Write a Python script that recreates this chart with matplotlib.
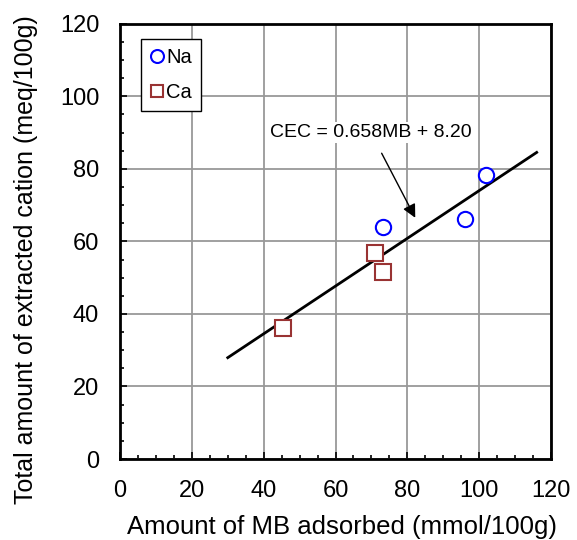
import matplotlib
matplotlib.use("Agg")
import matplotlib.pyplot as plt
from matplotlib.ticker import MultipleLocator
import numpy as np

plt.rcParams['font.family'] = ['Liberation Sans', 'DejaVu Sans']

# Data
na_mb = [73.3, 96.1, 101.9]
na_cec = [64.0, 66.2, 78.3]
ca_mb = [45.3, 71.1, 73.1]
ca_cec = [36.1, 56.8, 51.6]

slope = 0.658
intercept = 8.20
fit_range = [30, 116]

fig = plt.figure(figsize=(5.77, 5.40), dpi=100)
ax = fig.add_axes([0.208, 0.150, 0.747, 0.806])

# Fit line
fx = np.array(fit_range)
ax.plot(fx, slope * fx + intercept, color='black', lw=2, zorder=3)

# Data points
ax.plot(na_mb, na_cec, 'o', ms=11, mfc='white', mec='blue', mew=1.5, label='Na', zorder=4)
ax.plot(ca_mb, ca_cec, 's', ms=11, mfc='white', mec='#993333', mew=1.5, label='Ca', zorder=4)

# Annotation
ax.annotate('CEC = 0.658MB + 8.20', xy=(82.2, 66.5), xytext=(69.9, 89.9),
            ha='center', va='center', fontsize=14,
            arrowprops=dict(arrowstyle='-|>', color='black', lw=1, mutation_scale=20,
                            shrinkA=8, shrinkB=0),
            bbox=dict(boxstyle='square,pad=0.1', fc='white', ec='none'))

ax.set_xlim(0, 120)
ax.set_ylim(0, 120)
ax.xaxis.set_major_locator(MultipleLocator(20))
ax.yaxis.set_major_locator(MultipleLocator(20))
ax.xaxis.set_minor_locator(MultipleLocator(5))
ax.yaxis.set_minor_locator(MultipleLocator(5))
ax.tick_params(which='both', direction='in', width=1.2)
ax.tick_params(which='major', length=5, labelsize=17)
ax.tick_params(axis='x', which='major', pad=15)
ax.tick_params(axis='y', which='major', pad=15)
ax.tick_params(which='minor', length=3)
ax.grid(True, which='major', color='#999999', lw=1.3)
ax.set_axisbelow(True)
for s in ax.spines.values():
    s.set_linewidth(2)

ax.set_xlabel('Amount of MB adsorbed (mmol/100g)', fontsize=18.5)
ax.set_ylabel('Total amount of extracted cation (meq/100g)', fontsize=18)
ax.xaxis.set_label_coords(0.515, -0.128)
ax.yaxis.set_label_coords(-0.19, 0.458)

leg = ax.legend(loc='upper left', bbox_to_anchor=(0.049, 0.966), fontsize=14.5,
                frameon=True, fancybox=False, edgecolor='black', framealpha=1,
                handletextpad=0.1, handlelength=0.7, borderpad=0.45, labelspacing=0.8,
                borderaxespad=0, markerscale=0.85)
leg.get_frame().set_linewidth(1)

fig.savefig('out.png', dpi=100)
